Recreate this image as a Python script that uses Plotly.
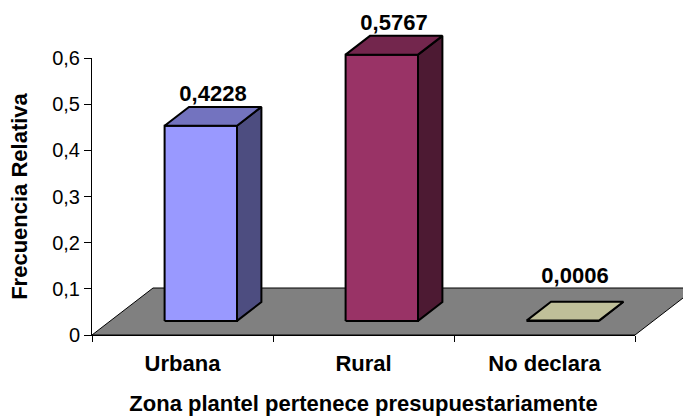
import plotly.graph_objects as go

# Data
CATEGORIES = ["Urbana", "Rural", "No declara"]
VALUES = [0.4228, 0.5767, 0.0006]
Y_TICKS = [0, 0.1, 0.2, 0.3, 0.4, 0.5, 0.6]

FRONT_COLORS = ["#9999FF", "#993366", "#FFFFCC"]
TOP_COLORS = ["#7373BF", "#73264D", "#BFBF99"]
SIDE_COLORS = ["#4D4D80", "#4D1A33", "#80806A"]

# Canvas geometry (pixels)
W, H = 683, 416
X0_PX, X1_PX = 92, 635          # left / right end of the category axis
Y0_PX, YTOP_PX = 335, 58        # value 0 / value 0.6
CAT_PX = (X1_PX - X0_PX) / len(CATEGORIES)
UNIT_PX = (Y0_PX - YTOP_PX) / Y_TICKS[-1]

# Oblique depth vector of the floor, in data units
DX = 61 / CAT_PX
DY = 47 / UNIT_PX
BAR_HALF = 0.2
D_FRONT, D_BACK = 0.3, 0.7      # bar depth span inside the floor

FONT = "Liberation Sans, Arial, sans-serif"

fig = go.Figure()


def poly(xs, ys, fill, width):
    fig.add_trace(go.Scatter(
        x=xs + xs[:1], y=ys + ys[:1], mode="lines", fill="toself",
        fillcolor=fill, line=dict(color="black", width=width),
        hoverinfo="skip", showlegend=False))


# Floor
xl, xr = -0.5, len(CATEGORIES) - 0.5
poly([xl, xr, xr + DX, xl + DX], [0, 0, DY, DY], "#808080", 1)

# 3-D columns
for i, v in enumerate(VALUES):
    x_l = i - BAR_HALF + D_FRONT * DX
    x_r = i + BAR_HALF + D_FRONT * DX
    y_b = D_FRONT * DY
    y_t = y_b + v
    ddx = (D_BACK - D_FRONT) * DX
    ddy = (D_BACK - D_FRONT) * DY
    poly([x_l, x_r, x_r, x_l], [y_b, y_b, y_t, y_t], FRONT_COLORS[i], 2)
    poly([x_r, x_r + ddx, x_r + ddx, x_r], [y_b, y_b + ddy, y_t + ddy, y_t],
         SIDE_COLORS[i], 2)
    poly([x_l, x_r, x_r + ddx, x_l + ddx], [y_t, y_t, y_t + ddy, y_t + ddy],
         TOP_COLORS[i], 2)

# Value labels above each column (kept above the floor's back edge)
label_x = [i + 0.5 * DX for i in range(len(VALUES))]
label_y = [max(v + D_BACK * DY, DY) for v in VALUES]
fig.add_trace(go.Scatter(
    x=label_x, y=label_y, mode="text",
    text=[f"{v:.4f}".replace(".", ",") for v in VALUES],
    textposition="top center",
    textfont=dict(family=FONT, size=22, color="black", weight="bold"),
    hoverinfo="skip", showlegend=False))

# Empty trace that binds the visible axis pair
fig.add_trace(go.Scatter(x=[], y=[], xaxis="x2", yaxis="y2",
                         showlegend=False, hoverinfo="skip"))

# Full-canvas axes for the oblique geometry (hidden)
fig.update_layout(
    xaxis=dict(domain=[0, 1], visible=False,
               range=[-0.5 - X0_PX / CAT_PX, -0.5 + (W - X0_PX) / CAT_PX]),
    yaxis=dict(domain=[0, 1], visible=False,
               range=[-(H - Y0_PX) / UNIT_PX, Y0_PX / UNIT_PX]),
)

# Visible category / value axes
fig.update_layout(
    xaxis2=dict(
        domain=[X0_PX / W, X1_PX / W], range=[-0.5, len(CATEGORIES) - 0.5],
        anchor="y2", showline=True, linecolor="black", linewidth=1,
        showgrid=False, zeroline=False,
        tickmode="array", tickvals=list(range(len(CATEGORIES))),
        ticktext=CATEGORIES, ticks="outside", ticklen=6,
        tickcolor="rgba(0,0,0,0)", ticklabelstandoff=3,
        minor=dict(tickmode="array",
                   tickvals=[k - 0.5 for k in range(len(CATEGORIES) + 1)],
                   ticks="outside", ticklen=6, tickcolor="black", tickwidth=1),
        tickfont=dict(family=FONT, size=22, color="black", weight="bold"),
        title=dict(text="Zona plantel pertenece presupuestariamente",
                   font=dict(family=FONT, size=22, color="black",
                             weight="bold"), standoff=25),
    ),
    yaxis2=dict(
        domain=[(H - Y0_PX) / H, (H - YTOP_PX) / H], range=[0, Y_TICKS[-1]],
        anchor="x2", showline=True, linecolor="black", linewidth=1,
        showgrid=False, zeroline=False,
        tickmode="array", tickvals=Y_TICKS, ticks="outside", ticklen=7,
        tickcolor="black",
        tickfont=dict(family=FONT, size=20, color="black"),
        title=dict(text="Frecuencia Relativa",
                   font=dict(family=FONT, size=22, color="black",
                             weight="bold"), standoff=18),
    ),
)

fig.update_layout(
    width=W, height=H, margin=dict(l=0, r=0, t=0, b=0, autoexpand=False),
    separators=",.", paper_bgcolor="white", plot_bgcolor="rgba(0,0,0,0)",
)

fig.write_html("out.html")
